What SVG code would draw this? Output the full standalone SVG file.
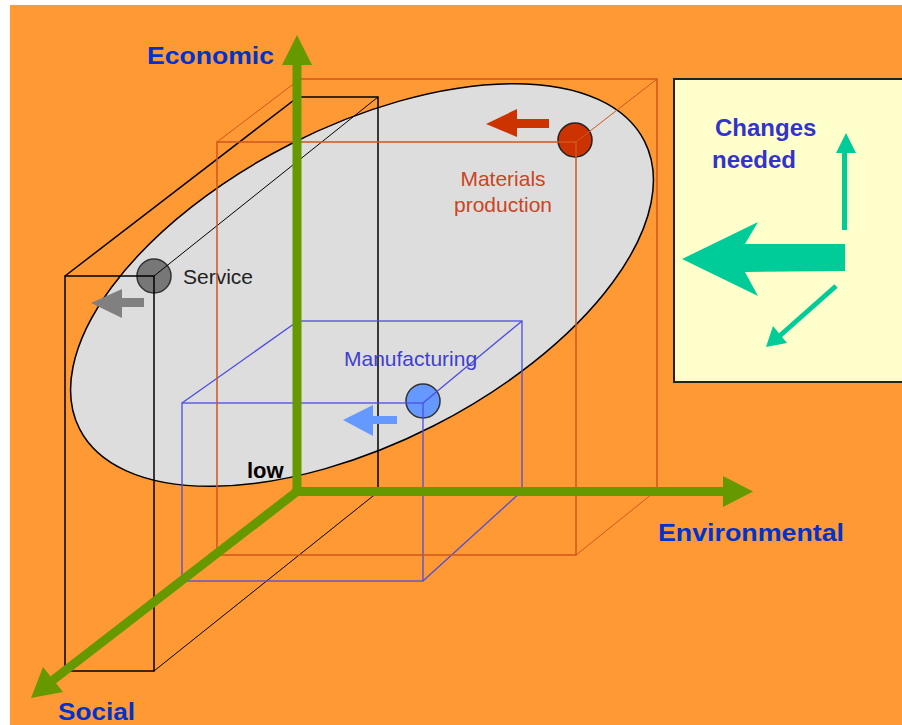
<svg xmlns="http://www.w3.org/2000/svg" width="902" height="725" viewBox="0 0 902 725">
<style>
.lbl{font-family:"Liberation Sans",Arial,sans-serif;}
.axislbl{font-family:"Liberation Sans",Arial,sans-serif;font-weight:bold;font-size:24px;fill:#0033CC;}
.small{font-family:"Liberation Sans",Arial,sans-serif;font-size:21px;}
.green{fill:#669900;}
.teal{fill:#00CC99;}
</style>
<rect x="0" y="0" width="902" height="725" fill="#FFFFFF"/>
<rect x="10" y="5" width="892" height="720" fill="#FF9933"/>

<g id="ellipse">
<ellipse cx="362" cy="285" rx="317" ry="158" transform="rotate(-27 362 285)" fill="#DDDDDD" stroke="#000000" stroke-width="1.5"/>
<text class="lbl" x="247" y="478" font-size="22" font-weight="bold" fill="#000000">low</text>
</g>

<g id="service">
<circle cx="154" cy="276" r="17" fill="#777777" stroke="#333333" stroke-width="1.5"/>
<g fill="none" stroke="#000000" stroke-width="1.5">
<rect x="65" y="276" width="89" height="395"/>
<rect x="298" y="97" width="80" height="395"/>
<line x1="65" y1="276" x2="298" y2="97"/>
<line x1="154" y1="276" x2="378" y2="97" stroke-width="1"/>
<line x1="154" y1="671" x2="378" y2="492" stroke-width="1"/>
</g>
<polygon points="91,303 122,289 122,298 144,298 144,307 122,307 122,318" fill="#808080"/>
<text class="small" x="183" y="284" fill="#222222">Service</text>
</g>

<g id="manufacturing">
<circle cx="423" cy="401" r="17" fill="#6699FF" stroke="#333333" stroke-width="1.5"/>
<g fill="none" stroke="#4D4DE0" stroke-width="1.3">
<rect x="182" y="403" width="241" height="178"/>
<rect x="298" y="321" width="224" height="170"/>
<line x1="182" y1="403" x2="298" y2="321"/>
<line x1="423" y1="403" x2="522" y2="321"/>
<line x1="423" y1="581" x2="522" y2="491"/>
</g>
<polygon points="343,420 373,405 373,416 397,416 397,424 373,424 373,436" fill="#6699FF"/>
<text class="small" x="344" y="366" fill="#4040D0">Manufacturing</text>
</g>

<g id="materials">
<circle cx="575" cy="140" r="17" fill="#CC3300" stroke="#222222" stroke-width="1.5"/>
<g fill="none" stroke="#D0561E" stroke-width="1.5">
<rect x="217" y="142" width="359" height="413"/>
<rect x="300" y="79" width="357" height="411"/>
<line x1="217" y1="142" x2="300" y2="79" stroke-width="1"/>
<line x1="576" y1="142" x2="657" y2="79" stroke-width="1"/>
<line x1="576" y1="555" x2="657" y2="490" stroke-width="1"/>
</g>
<polygon points="486,124 517,109 517,119 549,119 549,128 517,128 517,137" fill="#CC3300"/>
<text class="small" x="503" y="186" text-anchor="middle" fill="#CC4422">Materials</text>
<text class="small" x="503" y="212" text-anchor="middle" fill="#CC4422">production</text>
</g>

<g id="connectors">
<rect class="green" x="292.5" y="64" width="9" height="432"/>
<polygon class="green" points="282,65 297,35 312,65"/>
<rect class="green" x="292.5" y="487" width="431" height="9"/>
<polygon class="green" points="723,476 753,491.5 723,507"/>
<line x1="297" y1="491.5" x2="53" y2="680" stroke="#669900" stroke-width="9"/>
<polygon class="green" points="31,698 43,667 63,692"/>
</g>

<g id="axis-labels">
<text class="axislbl" x="147" y="64" textLength="127" lengthAdjust="spacingAndGlyphs">Economic</text>
<text class="axislbl" x="658" y="541" textLength="186" lengthAdjust="spacingAndGlyphs">Environmental</text>
<text class="axislbl" x="58" y="720" textLength="77" lengthAdjust="spacingAndGlyphs">Social</text>
</g>

<g id="legend">
<rect x="674" y="79" width="240" height="303" fill="#FFFFCC" stroke="#222222" stroke-width="2"/>
<text class="lbl" x="715" y="136" font-size="24" font-weight="bold" fill="#3333CC">Changes</text>
<text class="lbl" x="712" y="168" font-size="24" font-weight="bold" fill="#3333CC">needed</text>
<polygon class="teal" points="682,259 758,222 745,244 845,244 845,271 745,272 758,296"/>
<rect class="teal" x="842" y="152" width="5" height="78"/>
<polygon class="teal" points="846,133 836,153 856,153"/>
<line x1="836" y1="286" x2="775" y2="340" stroke="#00CC99" stroke-width="5"/>
<polygon class="teal" points="766,347 773,326 787,343"/>
</g>
</svg>
